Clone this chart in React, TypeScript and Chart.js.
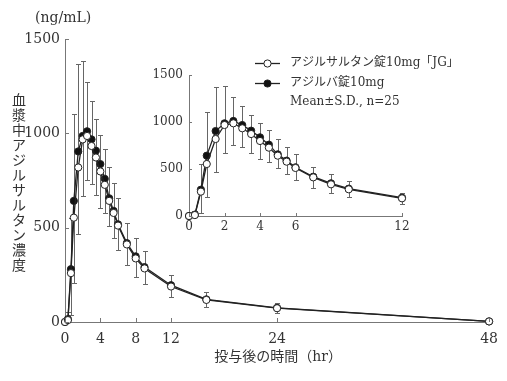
import React, { useEffect, useRef } from "react";
import { Chart, registerables } from "chart.js";

Chart.register(...registerables);

// ---- data ----
const times = [0, 0.33, 0.67, 1, 1.5, 2, 2.5, 3, 3.5, 4, 4.5, 5, 5.5, 6, 7, 8, 9, 12, 16, 24, 48];
const jgMean = [0, 10, 259, 553, 819, 968, 986, 933, 872, 798, 727, 642, 578, 511, 411, 337, 284, 188, 117, 73, 3];
const jgSD = [0, 10, 224, 347, 352, 298, 231, 203, 198, 195, 149, 135, 135, 128, 110, 96, 80, 57, 36, 24, 3];
const refMean = [0, 15, 280, 642, 904, 986, 1011, 968, 908, 837, 759, 656, 589, 518, 418, 348, 291, 195, 120, 75, 3];
const refSD = [0, 40, 270, 460, 464, 396, 259, 201, 166, 155, 159, 163, 148, 138, 107, 95, 85, 54, 37, 24, 3];

const mainXTicks = [0, 4, 8, 12, 24, 48];
const insetXTicks = [0, 2, 4, 6, 12];
const yTicks = [0, 500, 1000, 1500];

const seriesNames = ["アジルサルタン錠10mg「JG」", "アジルバ錠10mg"];
const statsNote = "Mean±S.D., n=25";
const yTitle = "血漿中アジルサルタン濃度";
const xTitle = "投与後の時間（hr）";
const unitLabel = "(ng/mL)";

const SERIF = "'DejaVu Serif', 'Noto Sans CJK JP', serif";
const TEXT = "#333";
const AXIS = "#777";
const LINE = "#222";
const ERR = "#666";

function makeDatasets(maxT: number) {
  const idx = times.map((_, i) => i).filter((i) => times[i] <= maxT);
  const pts = (m: number[]) => idx.map((i) => ({ x: times[i], y: m[i] }));
  const common = {
    borderColor: LINE,
    borderWidth: 1.3,
    pointRadius: 3.6,
    pointBorderWidth: 1,
    pointBorderColor: LINE,
    tension: 0,
    clip: false as any,
  };
  return [
    {
      ...common,
      label: seriesNames[0],
      data: pts(jgMean),
      sd: idx.map((i) => jgSD[i]),
      dir: -1,
      backgroundColor: "#fff",
      pointBackgroundColor: "#fff",
    },
    {
      ...common,
      label: seriesNames[1],
      data: pts(refMean),
      sd: idx.map((i) => refSD[i]),
      dir: 1,
      backgroundColor: "#111",
      pointBackgroundColor: "#111",
    },
  ];
}

const errorBarPlugin = {
  id: "errorBars",
  beforeDatasetsDraw(chart: any, _args: any, opts: any) {
    const { ctx } = chart;
    const xs = chart.scales.x;
    const ys = chart.scales.y;
    const cap = opts.cap ?? 2.5;
    ctx.save();
    ctx.strokeStyle = ERR;
    ctx.lineWidth = 1;
    chart.data.datasets.forEach((ds: any) => {
      ds.data.forEach((p: any, j: number) => {
        const sd = ds.sd[j];
        if (!sd) return;
        const px = Math.round(xs.getPixelForValue(p.x)) + 0.5;
        const y0 = ys.getPixelForValue(p.y);
        const y1 = Math.round(ys.getPixelForValue(p.y + ds.dir * sd)) + 0.5;
        ctx.beginPath();
        ctx.moveTo(px, y0);
        ctx.lineTo(px, y1);
        ctx.moveTo(px - cap, y1);
        ctx.lineTo(px + cap, y1);
        ctx.stroke();
      });
    });
    ctx.restore();
  },
};

const inwardTicksPlugin = {
  id: "inwardTicks",
  afterDraw(chart: any, _args: any, opts: any) {
    const { ctx, chartArea } = chart;
    const len = opts.len ?? 4;
    const xs = chart.scales.x;
    const ys = chart.scales.y;
    ctx.save();
    ctx.strokeStyle = AXIS;
    ctx.lineWidth = 1;
    ctx.beginPath();
    xs.ticks.forEach((t: any) => {
      const px = Math.round(xs.getPixelForValue(t.value)) + 0.5;
      ctx.moveTo(px, chartArea.bottom);
      ctx.lineTo(px, chartArea.bottom - len);
    });
    ys.ticks.forEach((t: any) => {
      const py = Math.round(ys.getPixelForValue(t.value)) + 0.5;
      ctx.moveTo(chartArea.left, py);
      ctx.lineTo(chartArea.left + len, py);
    });
    ctx.stroke();
    ctx.restore();
  },
};

const mainTextPlugin = {
  id: "mainText",
  afterDraw(chart: any) {
    const { ctx, chartArea } = chart;
    ctx.save();
    ctx.fillStyle = TEXT;
    ctx.font = `14px ${SERIF}`;
    ctx.textBaseline = "middle";
    // unit
    ctx.textAlign = "left";
    ctx.fillText(unitLabel, 35, 18);
    // vertical y title (upright characters)
    ctx.textAlign = "center";
    const chars = Array.from(yTitle);
    chars.forEach((c, i) => {
      ctx.fillText(c, 19, 101 + i * 15);
    });
    // x title
    ctx.fillText(xTitle, (chartArea.left + chartArea.right) / 2 + 1, 357);
    ctx.restore();
  },
};

const legendPlugin = {
  id: "customLegend",
  afterDraw(chart: any) {
    const { ctx } = chart;
    ctx.save();
    const rows = [
      { y: 63, fill: "#fff", text: seriesNames[0] },
      { y: 83, fill: "#111", text: seriesNames[1] },
    ];
    rows.forEach((r) => {
      ctx.strokeStyle = LINE;
      ctx.lineWidth = 1.3;
      ctx.beginPath();
      ctx.moveTo(255, r.y + 0.5);
      ctx.lineTo(280, r.y + 0.5);
      ctx.stroke();
      ctx.beginPath();
      ctx.arc(267.5, r.y + 0.5, 3.6, 0, Math.PI * 2);
      ctx.fillStyle = r.fill;
      ctx.fill();
      ctx.lineWidth = 1;
      ctx.stroke();
      ctx.fillStyle = TEXT;
      ctx.font = `12px ${SERIF}`;
      ctx.textAlign = "left";
      ctx.textBaseline = "middle";
      ctx.fillText(r.text, 290, r.y);
    });
    ctx.fillText(statsNote, 290, 102);
    ctx.restore();
  },
};

function axisCommon(size: number, padding: number) {
  return {
    grid: { display: false, drawTicks: false },
    border: { display: true, color: AXIS, width: 1 },
    ticks: {
      padding,
      color: TEXT,
      font: { family: SERIF, size },
      autoSkip: false,
      maxRotation: 0,
      callback: (v: any) => String(v),
    },
  };
}

export default function App() {
  const mainRef = useRef<HTMLCanvasElement | null>(null);
  const insetRef = useRef<HTMLCanvasElement | null>(null);

  useEffect(() => {
    document.body.style.margin = "0";
    const main = new Chart(mainRef.current as HTMLCanvasElement, {
      type: "line",
      data: { datasets: makeDatasets(48) as any },
      options: {
        responsive: false,
        animation: false,
        devicePixelRatio: 1,
        layout: { padding: { left: 0, top: 39, right: 17, bottom: 0 } },
        plugins: {
          legend: { display: false },
          tooltip: { enabled: false },
          errorBars: { cap: 2.5 },
          inwardTicks: { len: 4 },
        } as any,
        scales: {
          x: {
            type: "linear",
            min: 0,
            max: 48,
            ...axisCommon(14, 9),
            afterBuildTicks: (s: any) => {
              s.ticks = mainXTicks.map((v) => ({ value: v }));
            },
            afterFit: (s: any) => {
              s.height = 59;
            },
          } as any,
          y: {
            type: "linear",
            min: 0,
            max: 1500,
            ...axisCommon(14, 5),
            afterBuildTicks: (s: any) => {
              s.ticks = yTicks.map((v) => ({ value: v }));
            },
            afterFit: (s: any) => {
              s.width = 65;
            },
          } as any,
        },
      },
      plugins: [errorBarPlugin, inwardTicksPlugin, mainTextPlugin],
    });

    const inset = new Chart(insetRef.current as HTMLCanvasElement, {
      type: "line",
      data: { datasets: makeDatasets(12) as any },
      options: {
        responsive: false,
        animation: false,
        devicePixelRatio: 1,
        layout: { padding: { left: 149, top: 75, right: 105, bottom: 135 } },
        plugins: {
          legend: { display: false },
          tooltip: { enabled: false },
          errorBars: { cap: 2.5 },
          inwardTicks: { len: 3 },
        } as any,
        scales: {
          x: {
            type: "linear",
            min: 0,
            max: 12,
            ...axisCommon(12, 4),
            afterBuildTicks: (s: any) => {
              s.ticks = insetXTicks.map((v) => ({ value: v }));
            },
            afterFit: (s: any) => {
              s.height = 30;
            },
          } as any,
          y: {
            type: "linear",
            min: 0,
            max: 1500,
            ...axisCommon(12, 6),
            afterBuildTicks: (s: any) => {
              s.ticks = yTicks.map((v) => ({ value: v }));
            },
            afterFit: (s: any) => {
              s.width = 40;
            },
          } as any,
        },
      },
      plugins: [errorBarPlugin, inwardTicksPlugin, legendPlugin],
    });

    return () => {
      main.destroy();
      inset.destroy();
    };
  }, []);

  return (
    <div style={{ position: "fixed", left: 0, top: 0, width: 507, height: 381, background: "#fff" }}>
      <canvas
        ref={mainRef}
        width={507}
        height={381}
        style={{ position: "absolute", left: 0, top: 0, width: 507, height: 381 }}
      />
      <canvas
        ref={insetRef}
        width={507}
        height={381}
        style={{ position: "absolute", left: 0, top: 0, width: 507, height: 381, pointerEvents: "none" }}
      />
    </div>
  );
}
